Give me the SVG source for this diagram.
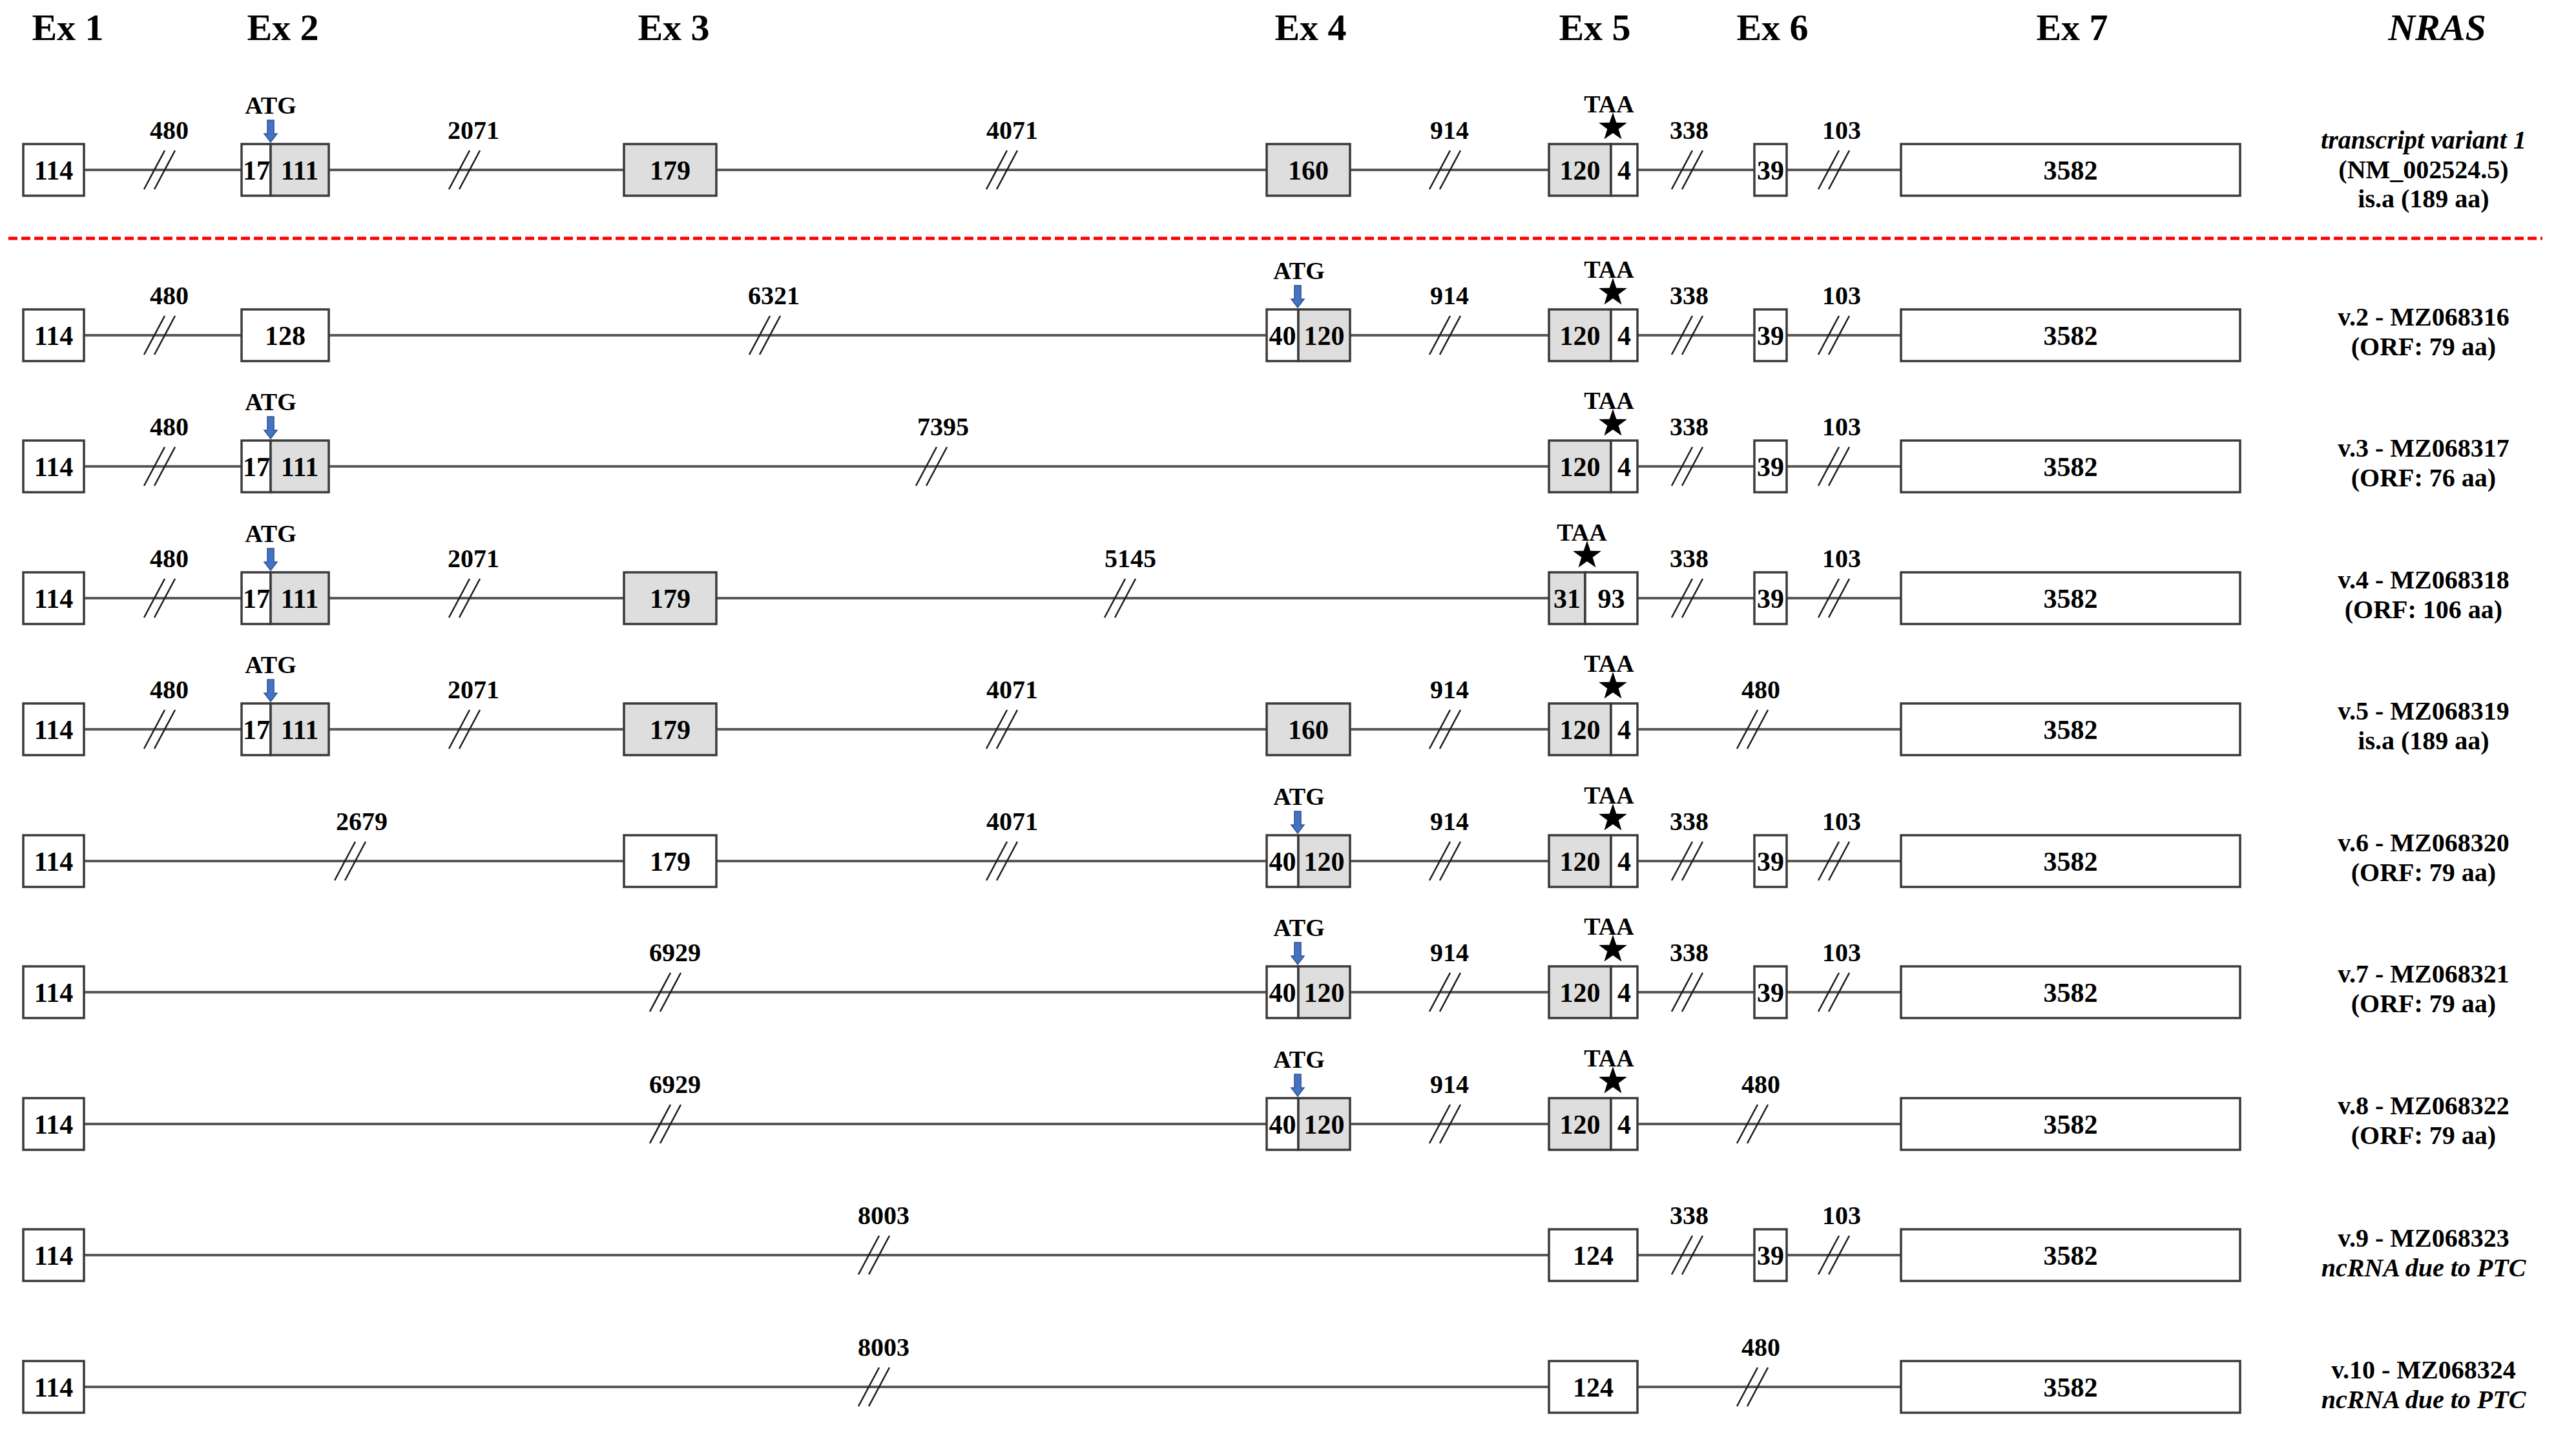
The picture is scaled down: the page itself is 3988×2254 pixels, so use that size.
<svg xmlns="http://www.w3.org/2000/svg" xmlns:xlink="http://www.w3.org/1999/xlink" width="3988" height="2254" viewBox="0 0 3988 2254">
<style>
text{font-family:"Liberation Serif","Times New Roman",serif;font-weight:bold;fill:#000;text-anchor:middle}
.hdr{font-size:58px}
.it{font-style:italic}
.num{font-size:42px}
.lbl{font-size:40px}
.cod{font-size:38px}
.rl{font-size:40px}
.w{fill:#fff;stroke:#3a3a3a;stroke-width:3.5}
.g{fill:#dedede;stroke:#3a3a3a;stroke-width:3.5}
.intron{stroke:#595959;stroke-width:4;fill:none}
.sl line{stroke:#1a1a1a;stroke-width:2.5}
.arrow{fill:#4472C4;stroke:#2F528F;stroke-width:1.5}
.star{fill:#000}
</style>
<defs>
<g id="slash" class="sl"><line x1="-24" y1="30" x2="8" y2="-30"/><line x1="-8" y1="30" x2="24" y2="-30"/></g>
<path id="arr" class="arrow" d="M-5,-34 H5 V-13 H10 L0,0 L-10,-13 H-5 Z"/>
<path id="star" class="star" d="M0,-23 L5.3,-7.3 L21.9,-7.1 L8.7,2.8 L13.5,18.6 L0,9.1 L-13.5,18.6 L-8.7,2.8 L-21.9,-7.1 L-5.3,-7.3 Z"/>
</defs>
<rect width="3988" height="2254" fill="#fff"/>

<g id="headers">
<text class="hdr" x="105" y="62">Ex 1</text>
<text class="hdr" x="438" y="62">Ex 2</text>
<text class="hdr" x="1043" y="62">Ex 3</text>
<text class="hdr" x="2029" y="62">Ex 4</text>
<text class="hdr" x="2469" y="62">Ex 5</text>
<text class="hdr" x="2744" y="62">Ex 6</text>
<text class="hdr" x="3208" y="62">Ex 7</text>
<text class="hdr it" x="3773" y="62">NRAS</text>
</g>

<line id="separator" x1="13" y1="369" x2="3936" y2="369" stroke="#ff0000" stroke-width="5" stroke-dasharray="14 6"/>

<g id="connectors">
<g class="intron">
<path d="M130,263H374M509,263H966M1109,263H1961M2090,263H2398M2535,263H2716M2766,263H2943"/>
<path d="M130,519H374M509,519H1961M2090,519H2398M2535,519H2716M2766,519H2943"/>
<path d="M130,722H374M509,722H2398M2535,722H2716M2766,722H2943"/>
<path d="M130,926H374M509,926H966M1109,926H2398M2535,926H2716M2766,926H2943"/>
<path d="M130,1129H374M509,1129H966M1109,1129H1961M2090,1129H2398M2535,1129H2943"/>
<path d="M130,1333H966M1109,1333H1961M2090,1333H2398M2535,1333H2716M2766,1333H2943"/>
<path d="M130,1536H1961M2090,1536H2398M2535,1536H2716M2766,1536H2943"/>
<path d="M130,1740H1961M2090,1740H2398M2535,1740H2943"/>
<path d="M130,1943H2398M2535,1943H2716M2766,1943H2943"/>
<path d="M130,2147H2398M2535,2147H2943"/>
</g>
<g id="slashes">
<use xlink:href="#slash" x="247" y="263"/><use xlink:href="#slash" x="719" y="263"/><use xlink:href="#slash" x="1551" y="263"/><use xlink:href="#slash" x="2237" y="263"/><use xlink:href="#slash" x="2612" y="263"/><use xlink:href="#slash" x="2839" y="263"/>
<use xlink:href="#slash" x="247" y="519"/><use xlink:href="#slash" x="1184" y="519"/><use xlink:href="#slash" x="2237" y="519"/><use xlink:href="#slash" x="2612" y="519"/><use xlink:href="#slash" x="2839" y="519"/>
<use xlink:href="#slash" x="247" y="722"/><use xlink:href="#slash" x="1442" y="722"/><use xlink:href="#slash" x="2612" y="722"/><use xlink:href="#slash" x="2839" y="722"/>
<use xlink:href="#slash" x="247" y="926"/><use xlink:href="#slash" x="719" y="926"/><use xlink:href="#slash" x="1734" y="926"/><use xlink:href="#slash" x="2612" y="926"/><use xlink:href="#slash" x="2839" y="926"/>
<use xlink:href="#slash" x="247" y="1129"/><use xlink:href="#slash" x="719" y="1129"/><use xlink:href="#slash" x="1551" y="1129"/><use xlink:href="#slash" x="2237" y="1129"/><use xlink:href="#slash" x="2713" y="1129"/>
<use xlink:href="#slash" x="542" y="1333"/><use xlink:href="#slash" x="1551" y="1333"/><use xlink:href="#slash" x="2237" y="1333"/><use xlink:href="#slash" x="2612" y="1333"/><use xlink:href="#slash" x="2839" y="1333"/>
<use xlink:href="#slash" x="1030" y="1536"/><use xlink:href="#slash" x="2237" y="1536"/><use xlink:href="#slash" x="2612" y="1536"/><use xlink:href="#slash" x="2839" y="1536"/>
<use xlink:href="#slash" x="1030" y="1740"/><use xlink:href="#slash" x="2237" y="1740"/><use xlink:href="#slash" x="2713" y="1740"/>
<use xlink:href="#slash" x="1353" y="1943"/><use xlink:href="#slash" x="2612" y="1943"/><use xlink:href="#slash" x="2839" y="1943"/>
<use xlink:href="#slash" x="1353" y="2147"/><use xlink:href="#slash" x="2713" y="2147"/>
</g>
<g id="intron-lengths">
<text class="lbl" x="262" y="215">480</text><text class="lbl" x="733" y="215">2071</text><text class="lbl" x="1567" y="215">4071</text><text class="lbl" x="2244" y="215">914</text><text class="lbl" x="2615" y="215">338</text><text class="lbl" x="2851" y="215">103</text>
<text class="lbl" x="262" y="471">480</text><text class="lbl" x="1198" y="471">6321</text><text class="lbl" x="2244" y="471">914</text><text class="lbl" x="2615" y="471">338</text><text class="lbl" x="2851" y="471">103</text>
<text class="lbl" x="262" y="674">480</text><text class="lbl" x="1460" y="674">7395</text><text class="lbl" x="2615" y="674">338</text><text class="lbl" x="2851" y="674">103</text>
<text class="lbl" x="262" y="878">480</text><text class="lbl" x="733" y="878">2071</text><text class="lbl" x="1750" y="878">5145</text><text class="lbl" x="2615" y="878">338</text><text class="lbl" x="2851" y="878">103</text>
<text class="lbl" x="262" y="1081">480</text><text class="lbl" x="733" y="1081">2071</text><text class="lbl" x="1567" y="1081">4071</text><text class="lbl" x="2244" y="1081">914</text><text class="lbl" x="2726" y="1081">480</text>
<text class="lbl" x="560" y="1285">2679</text><text class="lbl" x="1567" y="1285">4071</text><text class="lbl" x="2244" y="1285">914</text><text class="lbl" x="2615" y="1285">338</text><text class="lbl" x="2851" y="1285">103</text>
<text class="lbl" x="1045" y="1488">6929</text><text class="lbl" x="2244" y="1488">914</text><text class="lbl" x="2615" y="1488">338</text><text class="lbl" x="2851" y="1488">103</text>
<text class="lbl" x="1045" y="1692">6929</text><text class="lbl" x="2244" y="1692">914</text><text class="lbl" x="2726" y="1692">480</text>
<text class="lbl" x="1368" y="1895">8003</text><text class="lbl" x="2615" y="1895">338</text><text class="lbl" x="2851" y="1895">103</text>
<text class="lbl" x="1368" y="2099">8003</text><text class="lbl" x="2726" y="2099">480</text>
</g>
</g>

<g id="row1">
<g id="r1-ex1"><rect class="w" x="36" y="223" width="94" height="80"/><text class="num" x="83" y="278">114</text></g>
<g id="r1-ex2"><rect class="w" x="374" y="223" width="45" height="80"/><rect class="g" x="419" y="223" width="90" height="80"/><text class="num" x="397" y="278">17</text><text class="num" x="464" y="278">111</text></g>
<g id="r1-ex3"><rect class="g" x="966" y="223" width="143" height="80"/><text class="num" x="1037.5" y="278">179</text></g>
<g id="r1-ex4"><rect class="g" x="1961" y="223" width="129" height="80"/><text class="num" x="2025.5" y="278">160</text></g>
<g id="r1-ex5"><rect class="g" x="2398" y="223" width="96" height="80"/><rect class="w" x="2494" y="223" width="41" height="80"/><text class="num" x="2446" y="278">120</text><text class="num" x="2514.5" y="278">4</text></g>
<g id="r1-ex6"><rect class="w" x="2716" y="223" width="50" height="80"/><text class="num" x="2741" y="278">39</text></g>
<g id="r1-ex7"><rect class="w" x="2943" y="223" width="525" height="80"/><text class="num" x="3205.5" y="278">3582</text></g>
<g id="r1-atg"><text class="cod" x="419" y="176">ATG</text><use xlink:href="#arr" x="419" y="220"/></g>
<g id="r1-taa"><text class="cod" x="2491" y="174">TAA</text><use xlink:href="#star" x="2497" y="197"/></g>
<g id="r1-label"><text class="rl it" x="3752" y="230">transcript variant 1</text><text class="rl" x="3752" y="276">(NM_002524.5)</text><text class="rl" x="3752" y="321">is.a (189 aa)</text></g>
</g>

<g id="row2">
<g id="r2-ex1"><rect class="w" x="36" y="479" width="94" height="80"/><text class="num" x="83" y="534">114</text></g>
<g id="r2-ex2"><rect class="w" x="374" y="479" width="135" height="80"/><text class="num" x="441.5" y="534">128</text></g>
<g id="r2-ex4"><rect class="w" x="1961" y="479" width="49" height="80"/><rect class="g" x="2010" y="479" width="80" height="80"/><text class="num" x="1985.5" y="534">40</text><text class="num" x="2050" y="534">120</text></g>
<g id="r2-ex5"><rect class="g" x="2398" y="479" width="96" height="80"/><rect class="w" x="2494" y="479" width="41" height="80"/><text class="num" x="2446" y="534">120</text><text class="num" x="2514.5" y="534">4</text></g>
<g id="r2-ex6"><rect class="w" x="2716" y="479" width="50" height="80"/><text class="num" x="2741" y="534">39</text></g>
<g id="r2-ex7"><rect class="w" x="2943" y="479" width="525" height="80"/><text class="num" x="3205.5" y="534">3582</text></g>
<g id="r2-atg"><text class="cod" x="2011" y="432">ATG</text><use xlink:href="#arr" x="2009" y="476"/></g>
<g id="r2-taa"><text class="cod" x="2491" y="430">TAA</text><use xlink:href="#star" x="2497" y="453"/></g>
<g id="r2-label"><text class="rl" x="3752" y="504">v.2 - MZ068316</text><text class="rl" x="3752" y="550">(ORF: 79 aa)</text></g>
</g>

<g id="row3">
<g id="r3-ex1"><rect class="w" x="36" y="682" width="94" height="80"/><text class="num" x="83" y="737">114</text></g>
<g id="r3-ex2"><rect class="w" x="374" y="682" width="45" height="80"/><rect class="g" x="419" y="682" width="90" height="80"/><text class="num" x="397" y="737">17</text><text class="num" x="464" y="737">111</text></g>
<g id="r3-ex5"><rect class="g" x="2398" y="682" width="96" height="80"/><rect class="w" x="2494" y="682" width="41" height="80"/><text class="num" x="2446" y="737">120</text><text class="num" x="2514.5" y="737">4</text></g>
<g id="r3-ex6"><rect class="w" x="2716" y="682" width="50" height="80"/><text class="num" x="2741" y="737">39</text></g>
<g id="r3-ex7"><rect class="w" x="2943" y="682" width="525" height="80"/><text class="num" x="3205.5" y="737">3582</text></g>
<g id="r3-atg"><text class="cod" x="419" y="635">ATG</text><use xlink:href="#arr" x="419" y="679"/></g>
<g id="r3-taa"><text class="cod" x="2491" y="633">TAA</text><use xlink:href="#star" x="2497" y="656"/></g>
<g id="r3-label"><text class="rl" x="3752" y="707">v.3 - MZ068317</text><text class="rl" x="3752" y="753">(ORF: 76 aa)</text></g>
</g>

<g id="row4">
<g id="r4-ex1"><rect class="w" x="36" y="886" width="94" height="80"/><text class="num" x="83" y="941">114</text></g>
<g id="r4-ex2"><rect class="w" x="374" y="886" width="45" height="80"/><rect class="g" x="419" y="886" width="90" height="80"/><text class="num" x="397" y="941">17</text><text class="num" x="464" y="941">111</text></g>
<g id="r4-ex3"><rect class="g" x="966" y="886" width="143" height="80"/><text class="num" x="1037.5" y="941">179</text></g>
<g id="r4-ex5"><rect class="g" x="2398" y="886" width="56" height="80"/><rect class="w" x="2454" y="886" width="81" height="80"/><text class="num" x="2426" y="941">31</text><text class="num" x="2494.5" y="941">93</text></g>
<g id="r4-ex6"><rect class="w" x="2716" y="886" width="50" height="80"/><text class="num" x="2741" y="941">39</text></g>
<g id="r4-ex7"><rect class="w" x="2943" y="886" width="525" height="80"/><text class="num" x="3205.5" y="941">3582</text></g>
<g id="r4-atg"><text class="cod" x="419" y="839">ATG</text><use xlink:href="#arr" x="419" y="883"/></g>
<g id="r4-taa"><text class="cod" x="2449" y="837">TAA</text><use xlink:href="#star" x="2457" y="860"/></g>
<g id="r4-label"><text class="rl" x="3752" y="911">v.4 - MZ068318</text><text class="rl" x="3752" y="957">(ORF: 106 aa)</text></g>
</g>

<g id="row5">
<g id="r5-ex1"><rect class="w" x="36" y="1089" width="94" height="80"/><text class="num" x="83" y="1144">114</text></g>
<g id="r5-ex2"><rect class="w" x="374" y="1089" width="45" height="80"/><rect class="g" x="419" y="1089" width="90" height="80"/><text class="num" x="397" y="1144">17</text><text class="num" x="464" y="1144">111</text></g>
<g id="r5-ex3"><rect class="g" x="966" y="1089" width="143" height="80"/><text class="num" x="1037.5" y="1144">179</text></g>
<g id="r5-ex4"><rect class="g" x="1961" y="1089" width="129" height="80"/><text class="num" x="2025.5" y="1144">160</text></g>
<g id="r5-ex5"><rect class="g" x="2398" y="1089" width="96" height="80"/><rect class="w" x="2494" y="1089" width="41" height="80"/><text class="num" x="2446" y="1144">120</text><text class="num" x="2514.5" y="1144">4</text></g>
<g id="r5-ex7"><rect class="w" x="2943" y="1089" width="525" height="80"/><text class="num" x="3205.5" y="1144">3582</text></g>
<g id="r5-atg"><text class="cod" x="419" y="1042">ATG</text><use xlink:href="#arr" x="419" y="1086"/></g>
<g id="r5-taa"><text class="cod" x="2491" y="1040">TAA</text><use xlink:href="#star" x="2497" y="1063"/></g>
<g id="r5-label"><text class="rl" x="3752" y="1114">v.5 - MZ068319</text><text class="rl" x="3752" y="1160">is.a (189 aa)</text></g>
</g>

<g id="row6">
<g id="r6-ex1"><rect class="w" x="36" y="1293" width="94" height="80"/><text class="num" x="83" y="1348">114</text></g>
<g id="r6-ex3"><rect class="w" x="966" y="1293" width="143" height="80"/><text class="num" x="1037.5" y="1348">179</text></g>
<g id="r6-ex4"><rect class="w" x="1961" y="1293" width="49" height="80"/><rect class="g" x="2010" y="1293" width="80" height="80"/><text class="num" x="1985.5" y="1348">40</text><text class="num" x="2050" y="1348">120</text></g>
<g id="r6-ex5"><rect class="g" x="2398" y="1293" width="96" height="80"/><rect class="w" x="2494" y="1293" width="41" height="80"/><text class="num" x="2446" y="1348">120</text><text class="num" x="2514.5" y="1348">4</text></g>
<g id="r6-ex6"><rect class="w" x="2716" y="1293" width="50" height="80"/><text class="num" x="2741" y="1348">39</text></g>
<g id="r6-ex7"><rect class="w" x="2943" y="1293" width="525" height="80"/><text class="num" x="3205.5" y="1348">3582</text></g>
<g id="r6-atg"><text class="cod" x="2011" y="1246">ATG</text><use xlink:href="#arr" x="2009" y="1290"/></g>
<g id="r6-taa"><text class="cod" x="2491" y="1244">TAA</text><use xlink:href="#star" x="2497" y="1267"/></g>
<g id="r6-label"><text class="rl" x="3752" y="1318">v.6 - MZ068320</text><text class="rl" x="3752" y="1364">(ORF: 79 aa)</text></g>
</g>

<g id="row7">
<g id="r7-ex1"><rect class="w" x="36" y="1496" width="94" height="80"/><text class="num" x="83" y="1551">114</text></g>
<g id="r7-ex4"><rect class="w" x="1961" y="1496" width="49" height="80"/><rect class="g" x="2010" y="1496" width="80" height="80"/><text class="num" x="1985.5" y="1551">40</text><text class="num" x="2050" y="1551">120</text></g>
<g id="r7-ex5"><rect class="g" x="2398" y="1496" width="96" height="80"/><rect class="w" x="2494" y="1496" width="41" height="80"/><text class="num" x="2446" y="1551">120</text><text class="num" x="2514.5" y="1551">4</text></g>
<g id="r7-ex6"><rect class="w" x="2716" y="1496" width="50" height="80"/><text class="num" x="2741" y="1551">39</text></g>
<g id="r7-ex7"><rect class="w" x="2943" y="1496" width="525" height="80"/><text class="num" x="3205.5" y="1551">3582</text></g>
<g id="r7-atg"><text class="cod" x="2011" y="1449">ATG</text><use xlink:href="#arr" x="2009" y="1493"/></g>
<g id="r7-taa"><text class="cod" x="2491" y="1447">TAA</text><use xlink:href="#star" x="2497" y="1470"/></g>
<g id="r7-label"><text class="rl" x="3752" y="1521">v.7 - MZ068321</text><text class="rl" x="3752" y="1567">(ORF: 79 aa)</text></g>
</g>

<g id="row8">
<g id="r8-ex1"><rect class="w" x="36" y="1700" width="94" height="80"/><text class="num" x="83" y="1755">114</text></g>
<g id="r8-ex4"><rect class="w" x="1961" y="1700" width="49" height="80"/><rect class="g" x="2010" y="1700" width="80" height="80"/><text class="num" x="1985.5" y="1755">40</text><text class="num" x="2050" y="1755">120</text></g>
<g id="r8-ex5"><rect class="g" x="2398" y="1700" width="96" height="80"/><rect class="w" x="2494" y="1700" width="41" height="80"/><text class="num" x="2446" y="1755">120</text><text class="num" x="2514.5" y="1755">4</text></g>
<g id="r8-ex7"><rect class="w" x="2943" y="1700" width="525" height="80"/><text class="num" x="3205.5" y="1755">3582</text></g>
<g id="r8-atg"><text class="cod" x="2011" y="1653">ATG</text><use xlink:href="#arr" x="2009" y="1697"/></g>
<g id="r8-taa"><text class="cod" x="2491" y="1651">TAA</text><use xlink:href="#star" x="2497" y="1674"/></g>
<g id="r8-label"><text class="rl" x="3752" y="1725">v.8 - MZ068322</text><text class="rl" x="3752" y="1771">(ORF: 79 aa)</text></g>
</g>

<g id="row9">
<g id="r9-ex1"><rect class="w" x="36" y="1903" width="94" height="80"/><text class="num" x="83" y="1958">114</text></g>
<g id="r9-ex5"><rect class="w" x="2398" y="1903" width="137" height="80"/><text class="num" x="2466.5" y="1958">124</text></g>
<g id="r9-ex6"><rect class="w" x="2716" y="1903" width="50" height="80"/><text class="num" x="2741" y="1958">39</text></g>
<g id="r9-ex7"><rect class="w" x="2943" y="1903" width="525" height="80"/><text class="num" x="3205.5" y="1958">3582</text></g>
<g id="r9-label"><text class="rl" x="3752" y="1930">v.9 - MZ068323</text><text class="rl it" x="3752" y="1976">ncRNA due to PTC</text></g>
</g>

<g id="row10">
<g id="r10-ex1"><rect class="w" x="36" y="2107" width="94" height="80"/><text class="num" x="83" y="2162">114</text></g>
<g id="r10-ex5"><rect class="w" x="2398" y="2107" width="137" height="80"/><text class="num" x="2466.5" y="2162">124</text></g>
<g id="r10-ex7"><rect class="w" x="2943" y="2107" width="525" height="80"/><text class="num" x="3205.5" y="2162">3582</text></g>
<g id="r10-label"><text class="rl" x="3752" y="2134">v.10 - MZ068324</text><text class="rl it" x="3752" y="2180">ncRNA due to PTC</text></g>
</g>
</svg>
